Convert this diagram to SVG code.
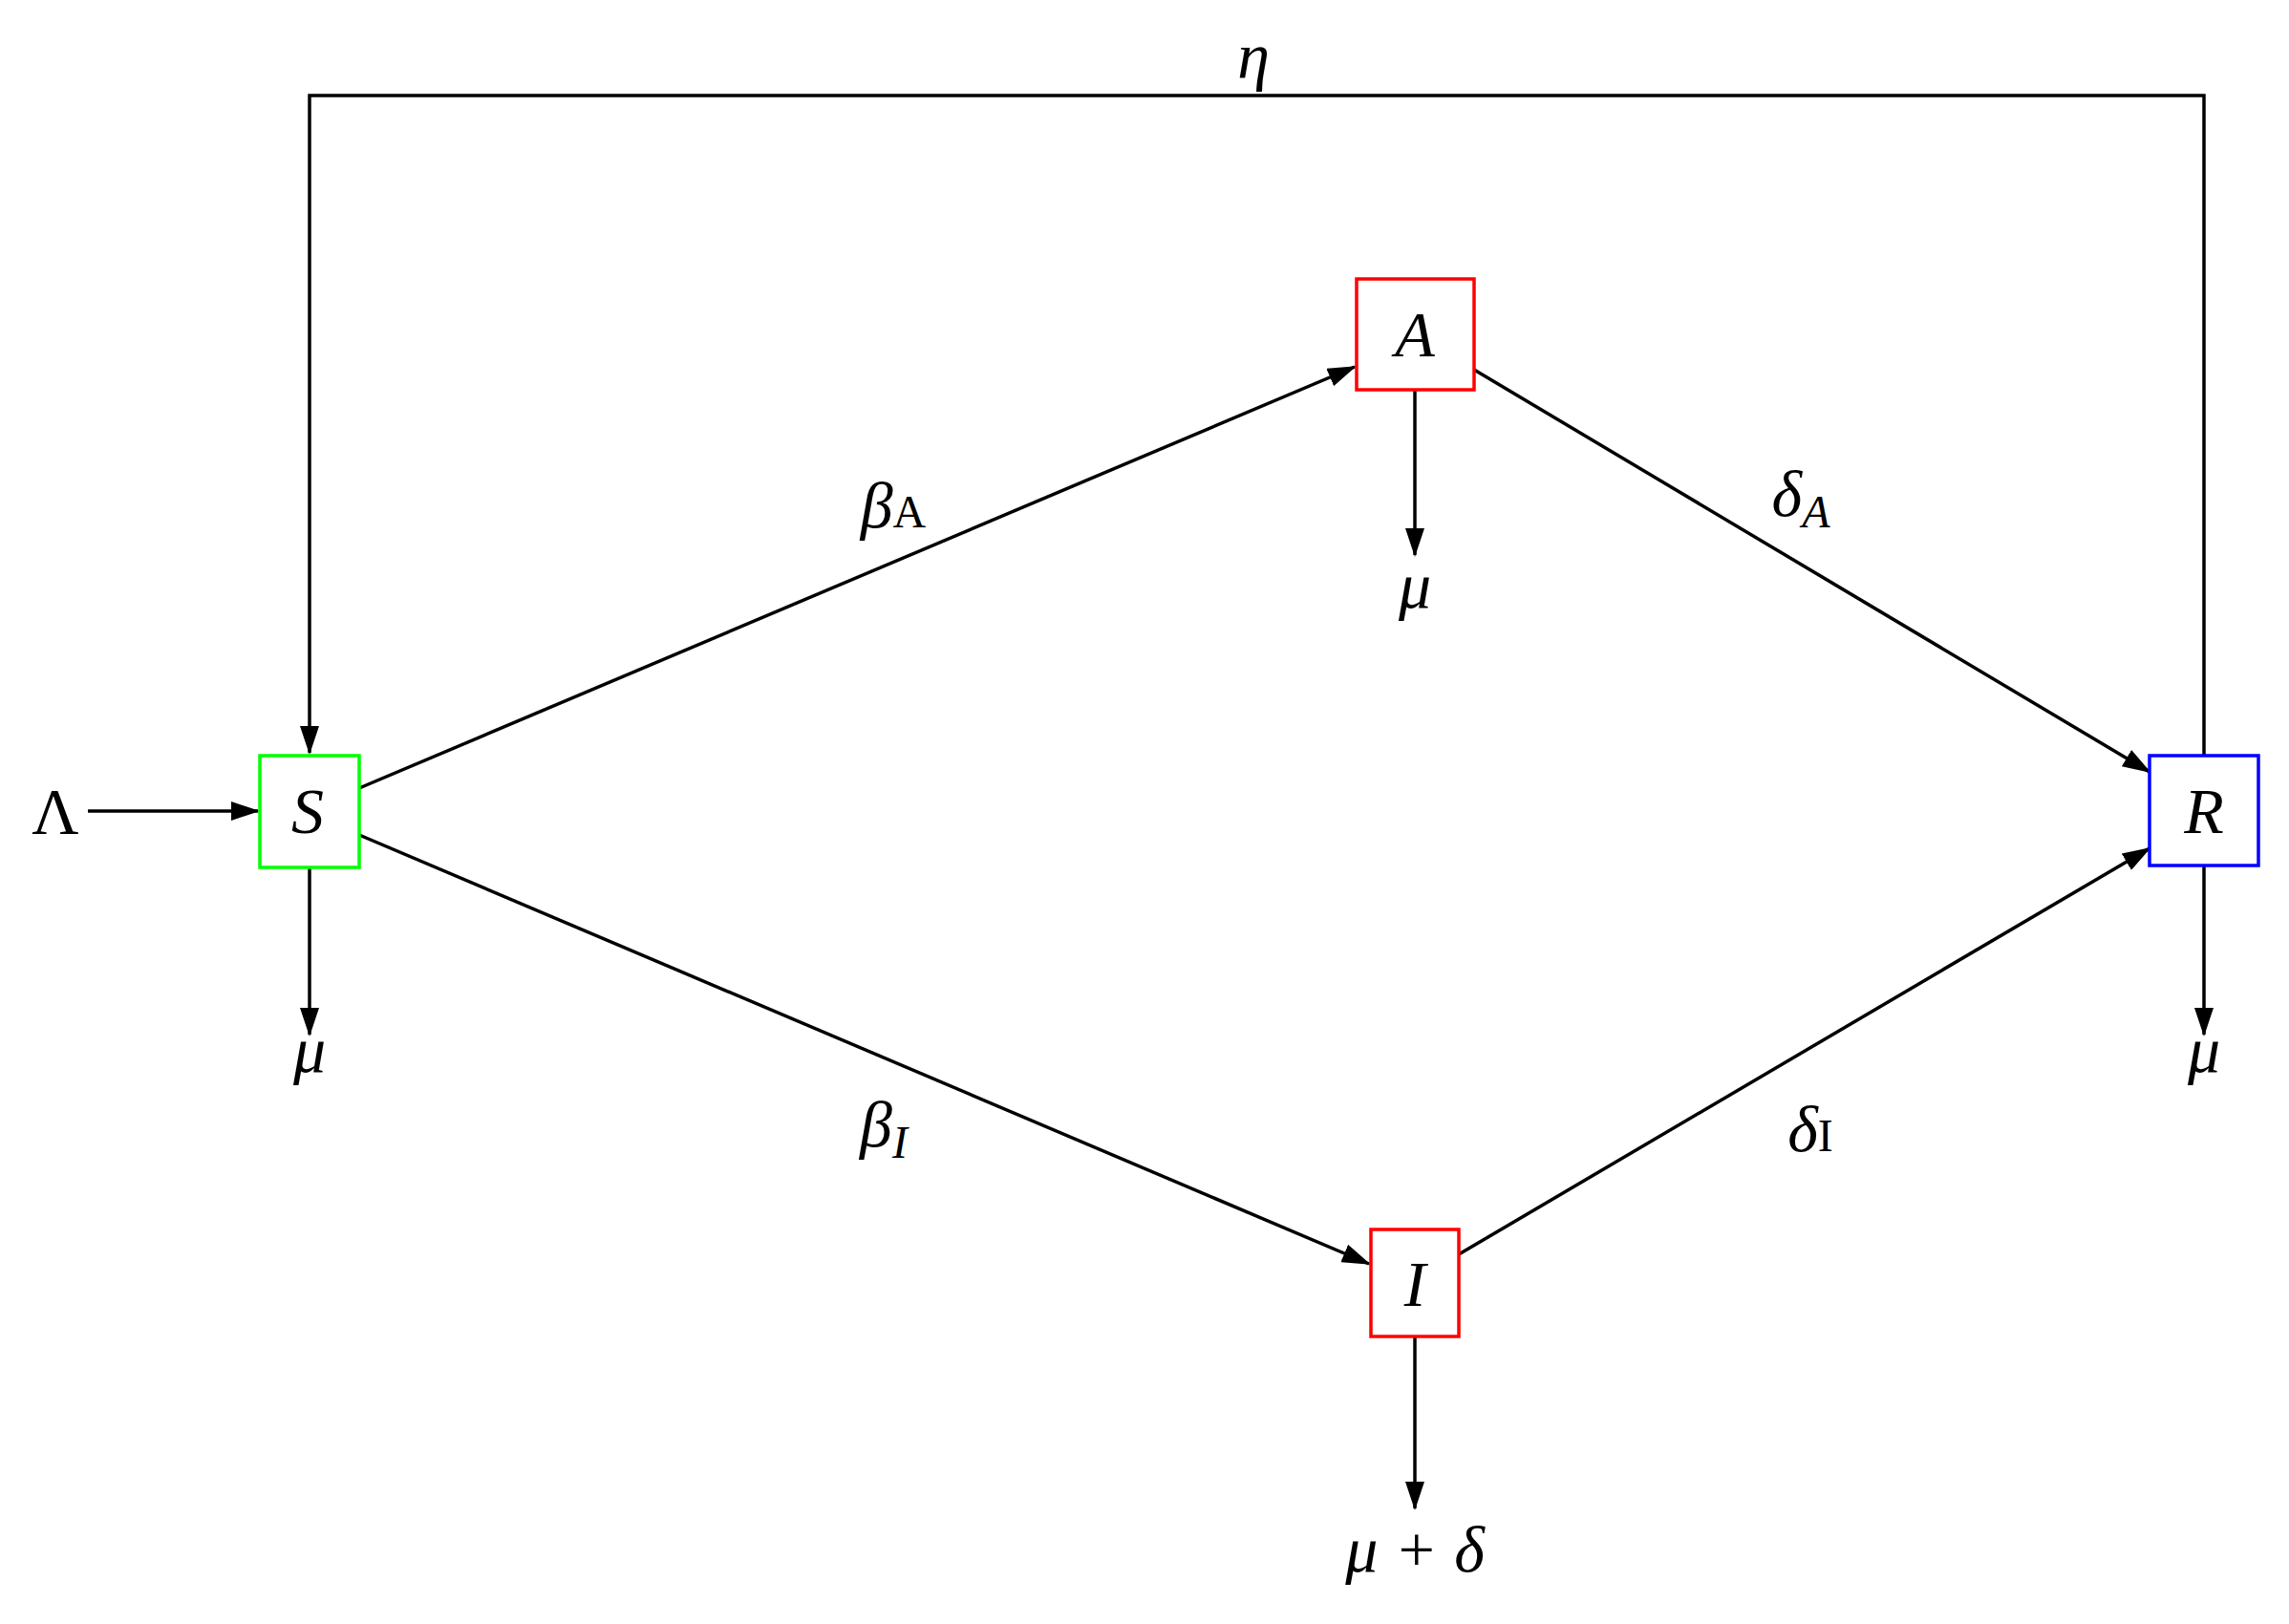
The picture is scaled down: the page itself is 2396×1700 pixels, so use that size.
<svg xmlns="http://www.w3.org/2000/svg" width="2396" height="1700" viewBox="0 0 2396 1700">
<style>
.b{fill:#fff;stroke-width:3.5}
.t{font-family:"Liberation Serif",serif;font-style:italic;font-size:68px;text-anchor:middle;fill:#000}
.l{font-family:"Liberation Serif",serif;font-style:italic;font-size:68px;text-anchor:middle;fill:#000}
.c line,.c polyline{stroke:#000;stroke-width:3.5;fill:none}
</style>
<defs><marker id="ar" markerWidth="30" markerHeight="20" refX="28" refY="10" orient="auto" markerUnits="userSpaceOnUse" viewBox="0 0 30 20"><path d="M0,0 L30,10 L0,20 Z" fill="#000"/></marker>
</defs>
<g class="c">
<polyline points="2307,791 2307,100 324,100 324,788" marker-end="url(#ar)"/>
<line x1="92" y1="849" x2="270" y2="849" marker-end="url(#ar)"/>
<line x1="324" y1="908" x2="324" y2="1083" marker-end="url(#ar)"/>
<line x1="1481" y1="408" x2="1481" y2="581" marker-end="url(#ar)"/>
<line x1="1481" y1="1399" x2="1481" y2="1579" marker-end="url(#ar)"/>
<line x1="2307" y1="906" x2="2307" y2="1083" marker-end="url(#ar)"/>
<line x1="376" y1="825" x2="1418" y2="384" marker-end="url(#ar)"/>
<line x1="1543" y1="387" x2="2250" y2="808" marker-end="url(#ar)"/>
<line x1="376" y1="874" x2="1433" y2="1323" marker-end="url(#ar)"/>
<line x1="1527" y1="1313" x2="2250" y2="888" marker-end="url(#ar)"/>
</g>
<g id="S"><rect class="b" x="272" y="791" width="104" height="117" stroke="#0f0"/><text class="t" x="322" y="872">S</text></g>
<g id="A"><rect class="b" x="1420" y="292" width="123" height="116" stroke="red"/><text class="t" x="1481" y="373">A</text></g>
<g id="I"><rect class="b" x="1435" y="1287" width="92" height="112" stroke="red"/><text class="t" x="1481" y="1367">I</text></g>
<g id="R"><rect class="b" x="2250" y="791" width="114" height="115" stroke="#00f"/><text class="t" x="2307" y="872">R</text></g>
<text class="l" x="58" y="872" style="font-style:normal">Λ</text>
<text class="l" x="1312" y="82">η</text>
<text class="l" x="324" y="1122">μ</text>
<text class="l" x="1481" y="636">μ</text>
<text class="l" x="2307" y="1122">μ</text>
<text class="l" x="1481" y="1645">μ + δ</text>
<text class="l" x="935" y="552">β<tspan font-size="48" style="font-style:normal">A</tspan></text>
<text class="l" x="1885" y="540">δ<tspan font-size="48" dy="12">A</tspan></text>
<text class="l" x="925" y="1200">β<tspan font-size="48" dy="12">I</tspan></text>
<text class="l" x="1895" y="1205">δ<tspan font-size="48" style="font-style:normal">I</tspan></text>
</svg>
